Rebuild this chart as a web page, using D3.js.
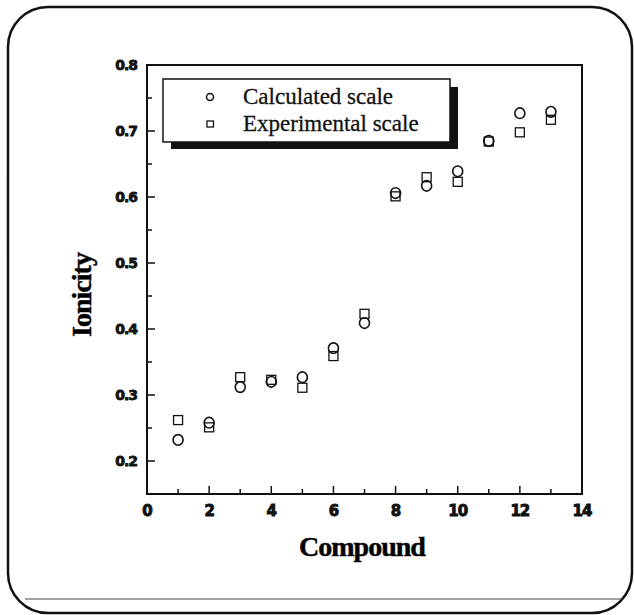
<!DOCTYPE html>
<html>
<head>
<meta charset="utf-8">
<script src="https://cdn.jsdelivr.net/npm/d3@7"></script>
<style>
  body { margin: 0; background: #fff; }
  svg { display: block; }
</style>
</head>
<body>
<div id="chart"></div>
<script>
// data
var compounds = [1, 2, 3, 4, 5, 6, 7, 8, 9, 10, 11, 12, 13];
var calculated = [0.232, 0.258, 0.312, 0.320, 0.327, 0.371, 0.409, 0.606, 0.617, 0.639, 0.685, 0.727, 0.729];
var experimental = [0.262, 0.251, 0.327, 0.323, 0.311, 0.359, 0.423, 0.601, 0.630, 0.623, 0.684, 0.698, 0.717];
var xTicks = [0, 2, 4, 6, 8, 10, 12, 14];
var yTicks = [0.2, 0.3, 0.4, 0.5, 0.6, 0.7, 0.8];
var legendLabels = ["Calculated scale", "Experimental scale"];

var W = 634, H = 615;
var svg = d3.select("#chart").append("svg")
    .attr("width", W)
    .attr("height", H);

svg.append("rect").attr("width", W).attr("height", H).attr("fill", "#fff");

// outer rounded frame + rule at bottom
svg.append("rect")
    .attr("x", 8).attr("y", 7)
    .attr("width", 624).attr("height", 606)
    .attr("rx", 40).attr("ry", 40)
    .attr("fill", "none")
    .attr("stroke", "#111")
    .attr("stroke-width", 2.5);
svg.append("line")
    .attr("x1", 25).attr("x2", 622)
    .attr("y1", 599).attr("y2", 599)
    .attr("stroke", "#444")
    .attr("stroke-width", 1.2);

var x = d3.scaleLinear().domain([0, 14]).range([147, 582]);
var y = d3.scaleLinear().domain([0.15, 0.8]).range([494, 65]);

// plot frame
svg.append("rect")
    .attr("x", x(0)).attr("y", y(0.8))
    .attr("width", x(14) - x(0)).attr("height", y(0.15) - y(0.8))
    .attr("fill", "none")
    .attr("stroke", "#111")
    .attr("stroke-width", 2);

// x axis: inward ticks, labels below
var xAxis = svg.append("g").attr("transform", "translate(0," + y(0.15) + ")");
xAxis.selectAll("line.minor")
    .data(d3.range(1, 14))
    .enter().append("line")
    .attr("x1", x).attr("x2", x)
    .attr("y1", 0).attr("y2", function(d) { return d % 2 ? -5 : -8; })
    .attr("stroke", "#111")
    .attr("stroke-width", 1.5);
xAxis.selectAll("text")
    .data(xTicks)
    .enter().append("text")
    .attr("x", x)
    .attr("y", 22)
    .attr("text-anchor", "middle")
    .attr("font-family", "'DejaVu Sans', sans-serif")
    .attr("font-weight", "bold")
    .attr("font-size", 15)
    .attr("fill", "#111")
    .attr("stroke", "#111")
    .attr("stroke-width", 0.9)
    .style("letter-spacing", "-1px")
    .text(function(d) { return d; });

// y axis
var yAxis = svg.append("g").attr("transform", "translate(" + x(0) + ",0)");
yAxis.selectAll("line")
    .data(d3.range(0.2, 0.8, 0.05))
    .enter().append("line")
    .attr("x1", 0)
    .attr("x2", function(d, i) { return i % 2 ? 5 : 8; })
    .attr("y1", y).attr("y2", y)
    .attr("stroke", "#111")
    .attr("stroke-width", 1.5);
yAxis.selectAll("text")
    .data(yTicks)
    .enter().append("text")
    .attr("x", -10)
    .attr("y", function(d) { return y(d) + 5; })
    .attr("text-anchor", "end")
    .attr("font-family", "'DejaVu Sans', sans-serif")
    .attr("font-weight", "bold")
    .attr("font-size", 14)
    .attr("fill", "#111")
    .attr("stroke", "#111")
    .attr("stroke-width", 0.8)
    .style("letter-spacing", "-1px")
    .text(function(d) { return d.toFixed(1); });

// axis titles
svg.append("text")
    .attr("x", 362)
    .attr("y", 556)
    .attr("text-anchor", "middle")
    .attr("font-family", "'Liberation Serif', serif")
    .attr("font-weight", "bold")
    .attr("font-size", 28)
    .attr("stroke", "#111")
    .attr("stroke-width", 0.5)
    .style("letter-spacing", "-1px")
    .text("Compound");
svg.append("text")
    .attr("transform", "translate(91,295) rotate(-90)")
    .attr("text-anchor", "middle")
    .attr("font-family", "'Liberation Serif', serif")
    .attr("font-weight", "bold")
    .attr("font-size", 28)
    .attr("stroke", "#111")
    .attr("stroke-width", 0.5)
    .style("letter-spacing", "-1px")
    .text("Ionicity");

// points
var pts = svg.append("g");
pts.selectAll("rect.exp")
    .data(compounds)
    .enter().append("rect")
    .attr("class", "exp")
    .attr("x", function(d) { return x(d) - 4.5; })
    .attr("y", function(d, i) { return y(experimental[i]) - 4.5; })
    .attr("width", 9).attr("height", 9)
    .attr("fill", "none")
    .attr("stroke", "#111")
    .attr("stroke-width", 1.3);
pts.selectAll("ellipse.calc")
    .data(compounds)
    .enter().append("ellipse")
    .attr("class", "calc")
    .attr("cx", x)
    .attr("cy", function(d, i) { return y(calculated[i]); })
    .attr("rx", 5).attr("ry", 5.3)
    .attr("fill", "none")
    .attr("stroke", "#111")
    .attr("stroke-width", 1.6);

// legend with drop shadow
var lg = svg.append("g");
lg.append("rect")
    .attr("x", 171).attr("y", 87).attr("width", 287).attr("height", 62)
    .attr("fill", "#111");
lg.append("rect")
    .attr("x", 163).attr("y", 79).attr("width", 287).attr("height", 63)
    .attr("fill", "#fff")
    .attr("stroke", "#111")
    .attr("stroke-width", 1.5);
lg.append("ellipse")
    .attr("cx", 210).attr("cy", 97).attr("rx", 3.5).attr("ry", 3.5)
    .attr("fill", "none").attr("stroke", "#111").attr("stroke-width", 1.5);
lg.append("rect")
    .attr("x", 207).attr("y", 121).attr("width", 6.5).attr("height", 6)
    .attr("fill", "none").attr("stroke", "#111").attr("stroke-width", 1.3);
lg.selectAll("text")
    .data(legendLabels)
    .enter().append("text")
    .attr("x", 243)
    .attr("y", function(d, i) { return 104 + i * 27; })
    .attr("font-family", "'Liberation Serif', serif")
    .attr("font-size", 23)
    .attr("fill", "#111")
    .attr("stroke", "#111")
    .attr("stroke-width", 0.3)
    .text(function(d) { return d; });
</script>
</body>
</html>
